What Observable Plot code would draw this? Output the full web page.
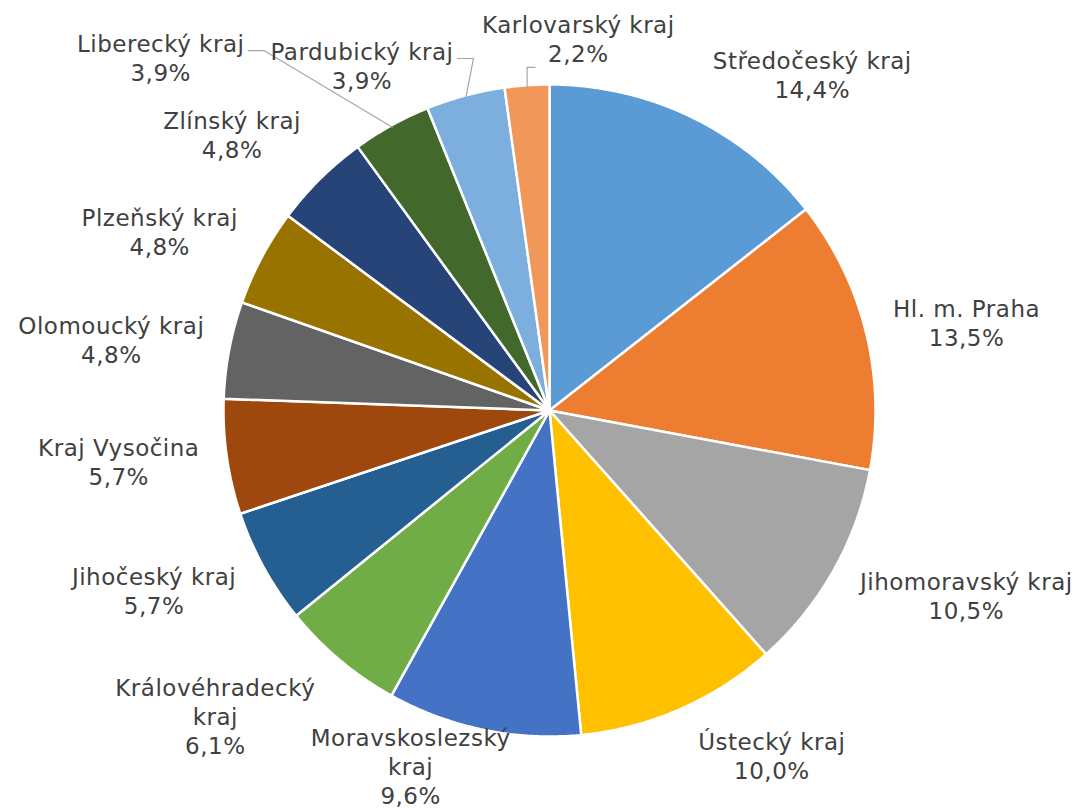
<!DOCTYPE html>
<html><head><meta charset="utf-8">
<script src="https://cdn.jsdelivr.net/npm/d3@7"></script>
<script src="https://cdn.jsdelivr.net/npm/@observablehq/plot@0.6"></script>
<style>body{margin:0;background:#fff}#chart{width:1082px;height:809px}</style>
</head><body><div id="chart"></div>
<script>
// ---- data ----
const regions = ["Středočeský kraj","Hl. m. Praha","Jihomoravský kraj","Ústecký kraj","Moravskoslezský kraj","Královéhradecký kraj","Jihočeský kraj","Kraj Vysočina","Olomoucký kraj","Plzeňský kraj","Zlínský kraj","Liberecký kraj","Pardubický kraj","Karlovarský kraj"];
const shares = [14.4,13.5,10.5,10.0,9.6,6.1,5.7,5.7,4.8,4.8,4.8,3.9,3.9,2.2];
const colors = ["#5B9BD5","#ED7D31","#A5A5A5","#FFC000","#4472C4","#70AD47","#255E91","#9E480E","#636363","#997300","#264478","#43682B","#7CAFDD","#F1975A"];

// ---- layout (label placement tweaks, like Excel's best-fit) ----
const labelNudgeDeg = [7.6,0.5,-1.4,-6.4,7,3.9,1.4,0.5,0,-0.6,-1.5,-15.7,-10,7.7];
const labelGapPx = [50,29,40,45,7,56,37,28,27,35,45,143,27,20];

const W = 1082, H = 809;
const R = 326;                       // pie radius in px
const xDomain = [-549 / R, (W - 549) / R];
const yDomain = [(410 - H) / R, 410 / R];
const fontSize = 23, lineH = 29, spacing = 0.5;
const textColor = "#404040";

const fmt = v => v.toFixed(1).replace(".", ",") + "%";
const wrap = s => s.length > 18 ? s.replace(/ (\S+)$/, "\n$1") : s;

const table = regions.map((name, i) => ({name, share: shares[i], i}));
const arcs = d3.pie().sort(null).value(d => d.share)(table);

// slice outlines in radius units (angle clockwise from top)
const slicePts = [];
for (const a of arcs) {
  const n = Math.max(2, Math.ceil((a.endAngle - a.startAngle) / (Math.PI / 360)));
  slicePts.push({name: a.data.name, x: 0, y: 0});
  for (let k = 0; k <= n; k++) {
    const t = a.startAngle + (a.endAngle - a.startAngle) * k / n;
    slicePts.push({name: a.data.name, x: Math.sin(t), y: Math.cos(t)});
  }
}

// labels
const ctx = document.createElement("canvas").getContext("2d");
ctx.font = `${fontSize}px 'DejaVu Sans'`;
const measure = l => ctx.measureText(l).width + spacing * l.length;
const labels = [], leaders = [];
for (const a of arcs) {
  const i = a.data.i;
  const text = wrap(a.data.name) + "\n" + fmt(a.data.share);
  const lines = text.split("\n");
  const w = Math.max(...lines.map(measure));
  const h = (lines.length - 1) * lineH + 26;
  const mid = (a.startAngle + a.endAngle) / 2;
  const th = mid + labelNudgeDeg[i] * Math.PI / 180;
  const ux = Math.sin(th), uy = -Math.cos(th);          // px direction, y down
  const D = R + labelGapPx[i];
  const cxp = ux * (D + w / 2), cyp = uy * (D + h / 2);
  labels.push({text, x: cxp / R, y: -cyp / R});
  if (a.data.share < 4) {
    const ex = Math.sin(mid) * (R - 2), ey = -Math.cos(mid) * (R - 2);
    const right = cxp + w / 2, bottom = cyp + h / 2;
    let pts;
    if (ex > right + 4) {
      const ly = cyp - 7;
      pts = [[right + 4, ly], [right + 20, ly], [ex, ey]];
    } else {
      const ly = bottom + 2;
      pts = [[ex + 8, ly], [ex, ly], [ex, ey]];
    }
    pts.forEach(([px, py]) => leaders.push({name: a.data.name, x: px / R, y: -py / R}));
  }
}

const chart = Plot.plot({
  width: W, height: H,
  margin: 0,
  x: {domain: xDomain, axis: null},
  y: {domain: yDomain, axis: null},
  color: {domain: regions, range: colors},
  style: {background: "#fff", fontFamily: "'DejaVu Sans', Verdana, sans-serif", letterSpacing: spacing + "px"},
  marks: [
    Plot.line(slicePts, {x: "x", y: "y", z: "name", fill: "name", stroke: "#fff", strokeWidth: 2.5, curve: "linear-closed", strokeLinejoin: "miter"}),
    Plot.line(leaders, {x: "x", y: "y", z: "name", stroke: "#A6A6A6", strokeWidth: 1.2}),
    Plot.text(labels, {x: "x", y: "y", text: "text", fontSize, lineHeight: lineH / fontSize, fill: textColor, textAnchor: "middle", lineAnchor: "middle"})
  ]
});
document.getElementById("chart").append(chart);
</script>
</body></html>
